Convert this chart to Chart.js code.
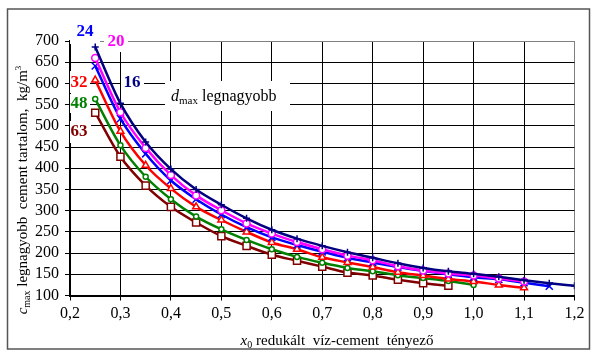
<!DOCTYPE html>
<html>
<head>
<meta charset="utf-8">
<script src="https://cdn.jsdelivr.net/npm/chart.js@4.4.1/dist/chart.umd.min.js"></script>
<style>
    html, body { margin: 0; padding: 0; background: #fff; }
</style>
</head>
<body>
<canvas id="myChart" width="595" height="353"></canvas>
<script>
// x0 értékek (redukált víz-cement tényező)
var xErtekek = [0.25, 0.30, 0.35, 0.40, 0.45, 0.50, 0.55, 0.60, 0.65, 0.70,
    0.75, 0.80, 0.85, 0.90, 0.95, 1.00, 1.05, 1.10, 1.15, 1.20];
// cement tartalom, kg/m3 - dmax szerint
var d16 = [686, 553, 462, 398, 350, 314, 282, 255, 234, 217, 202, 189, 176, 165, 157, 151, 144, 136, 129, 123];
var d20 = [660, 532, 448, 384, 336, 301, 270, 246, 226, 209, 194, 183, 169, 159, 152, 147, 140, 133];
var d24 = [641, 517, 434, 371, 327, 291, 261, 237, 219, 203, 189, 178, 167, 158, 150, 143, 138, 130, 122];
var d32 = [608, 487, 407, 352, 309, 278, 250, 225, 209, 190, 178, 167, 155, 147, 139, 133, 125, 118];
var d48 = [563, 454, 380, 327, 286, 256, 231, 209, 191, 177, 165, 157, 148, 141, 134, 125];
var d63 = [531, 427, 359, 309, 272, 240, 217, 196, 182, 168, 154, 147, 137, 129, 123];
var sorozatNevek = ["16", "20", "24", "32", "48", "63"];
var yMin = 100, yMax = 700, yLepes = 50;
var xMin = 0.2, xMax = 1.2, xLepes = 0.1;

function pontok(ertekek) {
    var p = [];
    ertekek.forEach((v, i) => {
        p.push({ x: xErtekek[i], y: v });
    })
    return p;
}

function sorozat(nev, ertekek, szin, stilus, r) {
    return {
        label: nev,
        data: pontok(ertekek),
        borderColor: szin,
        borderWidth: 2.5,
        pointStyle: stilus,
        pointRadius: r,
        pointBorderColor: szin,
        pointBackgroundColor: '#fff',
        pointBorderWidth: 1.5,
        cubicInterpolationMode: 'monotone',
        fill: false
    };
}

var serif = "'Liberation Serif', 'Times New Roman', serif";

// feliratok a görbék mellett (fehér háttérrel)
var cimkek = [
    { t: sorozatNevek[2], c: '#0000ff', x: 85, y: 31, box: [70, 20, 30, 24] },
    { t: sorozatNevek[1], c: '#ff00ff', x: 116, y: 41, box: [104, 31, 24, 21] },
    { t: sorozatNevek[3], c: '#ff0000', x: 79, y: 82, box: [70, 71, 20, 22] },
    { t: sorozatNevek[0], c: '#000080', x: 132, y: 82, box: [121, 71, 23, 22] },
    { t: sorozatNevek[4], c: '#008000', x: 79, y: 103, box: [70, 94, 20, 19] },
    { t: sorozatNevek[5], c: '#800000', x: 79, y: 131, box: [70, 121, 21, 22] }
];

function darabok(ctx, reszek, x, y) {
    reszek.forEach(r => {
        ctx.font = r.f;
        ctx.fillText(r.t, x, y + (r.dy || 0));
        x += ctx.measureText(r.t).width;
    })
}
function szelesseg(ctx, reszek) {
    var w = 0;
    reszek.forEach(r => {
        ctx.font = r.f;
        w += ctx.measureText(r.t).width;
    })
    return w;
}

var rajzolo = {
    id: 'rajzolo',
    beforeDatasetsDraw: function (chart) {
        var ctx = chart.ctx;
        ctx.save();
        cimkek.forEach(c => {
            ctx.fillStyle = '#fff';
            ctx.fillRect(c.box[0], c.box[1], c.box[2], c.box[3]);
            ctx.fillStyle = c.c;
            ctx.font = "bold 17px " + serif;
            ctx.textAlign = 'center';
            ctx.textBaseline = 'middle';
            ctx.fillText(c.t, c.x, c.y + 1);
        })
        // dmax legnagyobb
        ctx.fillStyle = '#fff';
        ctx.fillRect(165, 81, 125, 30);
        ctx.fillStyle = '#000';
        ctx.textAlign = 'left';
        ctx.textBaseline = 'alphabetic';
        darabok(ctx, [
            { t: "d", f: "italic 16px " + serif },
            { t: "max", f: "11px " + serif, dy: 3 },
            { t: " legnagyobb", f: "16px " + serif }
        ], 171, 101);
        ctx.restore();
    },
    afterDraw: function (chart) {
        var ctx = chart.ctx;
        ctx.save();
        // keret
        ctx.strokeStyle = '#555';
        ctx.lineWidth = 1.5;
        ctx.strokeRect(7.5, 9, 582, 340);
        ctx.fillStyle = '#000';
        ctx.textAlign = 'left';
        ctx.textBaseline = 'alphabetic';
        // x tengely cím
        var xr = [
            { t: "x", f: "italic 15px " + serif },
            { t: "0", f: "10px " + serif, dy: 3 },
            { t: " redukált  víz-cement  tényező", f: "15px " + serif }
        ];
        var w = szelesseg(ctx, xr);
        darabok(ctx, xr, 337 - w / 2, 345);
        // y tengely cím
        var yr = [
            { t: "c", f: "italic 15px " + serif },
            { t: "max", f: "10px " + serif, dy: 3 },
            { t: " legnagyobb  cement tartalom,  kg/m", f: "15px " + serif },
            { t: "3", f: "9px " + serif, dy: -6 }
        ];
        var wy = szelesseg(ctx, yr);
        ctx.translate(27, 190);
        ctx.rotate(-Math.PI / 2);
        darabok(ctx, yr, -wy / 2, 0);
        ctx.restore();
    }
};

var canvas = document.getElementById('myChart');
var myChart = new Chart(canvas, {
    type: 'line',
    data: {
        datasets: [
            sorozat(sorozatNevek[0], d16, '#000080', 'cross', 3.5),
            sorozat(sorozatNevek[1], d20, '#ff00ff', 'circle', 3.5),
            sorozat(sorozatNevek[2], d24, '#0000ff', 'crossRot', 5),
            sorozat(sorozatNevek[3], d32, '#ff0000', 'triangle', 4),
            sorozat(sorozatNevek[4], d48, '#008000', 'circle', 2.5),
            sorozat(sorozatNevek[5], d63, '#800000', 'rect', 5)
        ]
    },
    options: {
        responsive: false,
        animation: false,
        layout: { padding: { left: 0, right: 20.5, top: 41, bottom: 0 } },
        plugins: {
            legend: { display: false },
            tooltip: { enabled: false }
        },
        scales: {
            x: {
                type: 'linear',
                min: xMin,
                max: xMax,
                afterFit: function (s) { s.height = 57.5; },
                ticks: {
                    stepSize: xLepes,
                    autoSkip: false,
                    maxRotation: 0,
                    color: '#000',
                    padding: 4,
                    font: { family: serif, size: 16 },
                    callback: function (v) { return v.toFixed(1).replace('.', ','); }
                },
                grid: {
                    color: function (c) { return (c.tick && Math.abs(c.tick.value - xMax) < 1e-6) ? '#808080' : '#000'; },
                    lineWidth: 1,
                    tickLength: 5,
                    tickColor: '#000'
                },
                border: { display: true, color: '#000', width: 2 }
            },
            y: {
                min: yMin,
                max: yMax,
                afterFit: function (s) { s.width = 70; },
                ticks: {
                    stepSize: yLepes,
                    autoSkip: false,
                    color: '#000',
                    padding: 6,
                    font: { family: serif, size: 16 }
                },
                grid: {
                    color: function (c) { return (c.tick && c.tick.value == yMax) ? '#808080' : '#000'; },
                    lineWidth: 1,
                    tickLength: 5,
                    tickColor: '#000'
                },
                border: { display: true, color: '#000', width: 2 }
            }
        }
    },
    plugins: [rajzolo]
});
</script>
</body>
</html>
